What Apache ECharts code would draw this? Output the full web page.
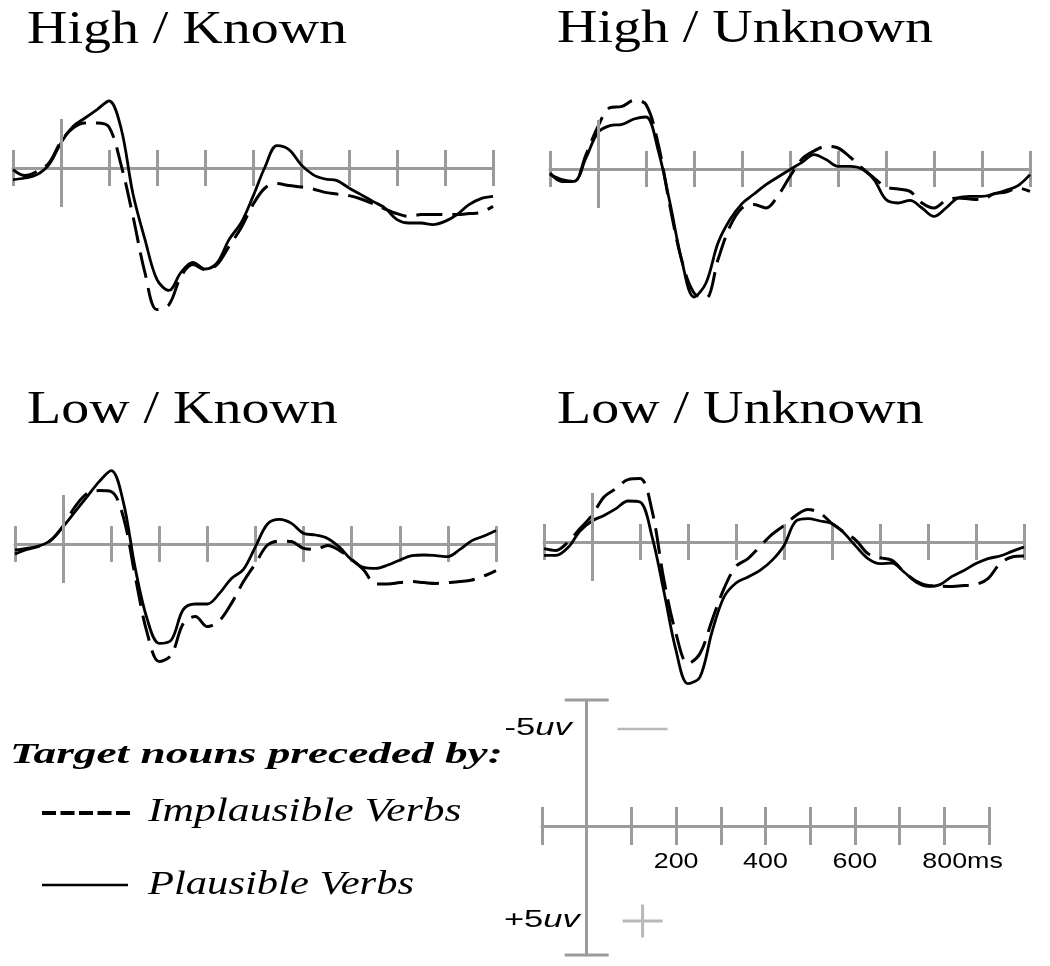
<!DOCTYPE html>
<html>
<head>
<meta charset="utf-8">
<script src="https://cdn.jsdelivr.net/npm/echarts@6/dist/echarts.min.js"></script>
<style>
  html, body { margin: 0; padding: 0; background: #fff; }
  #chart { width: 1050px; height: 966px; }
</style>
</head>
<body>
<div id="chart"></div>
<script>
// time points (ms), one reading every 25 ms
const TIMES = [-100, -75, -50, -25, 0, 25, 50, 75, 100, 125, 150, 175, 200, 225, 250, 275, 300,
  325, 350, 375, 400, 425, 450, 475, 500, 525, 550, 575, 600, 625, 650, 675, 700, 725, 750,
  775, 800, 825, 850, 875, 900]

// amplitudes in uV (negative plotted up)
const HK_IMPL = [0.08, 0.38, 0.17, -0.25, -1.33, -2.0, -2.25, -2.25, -2.05, -0.17, 2.42, 5.25, 7.08,
  6.83, 5.42, 4.83, 5.08, 4.83, 3.92, 3.0, 1.83, 1.0, 0.78, 0.88, 0.95, 1.05, 1.22, 1.3, 1.38,
  1.55, 1.78, 2.05, 2.28, 2.42, 2.33, 2.33, 2.33, 2.33, 2.28, 2.22, 1.92]
const HK_PLAUS = [0.58, 0.5, 0.33, -0.17, -1.25, -2.08, -2.5, -2.92, -3.35, -2.0, 1.3, 3.58, 5.58,
  6.12, 5.22, 4.72, 5.05, 4.75, 3.58, 2.75, 1.42, -0.05, -1.12, -0.92, -0.17, 0.33, 0.55, 0.63,
  1.0, 1.33, 1.67, 2.0, 2.58, 2.75, 2.75, 2.83, 2.67, 2.33, 1.83, 1.53, 1.42]

const HU_IMPL = [0.2, 0.62, 0.62, -0.72, -2.13, -3.07, -3.13, -3.43, -3.22, -1.3, 1.87, 4.62, 6.2,
  6.45, 4.53, 2.87, 1.95, 1.78, 1.95, 1.33, 0.37, -0.5, -0.9, -1.13, -1.05, -0.6, -0.05, 0.45,
  0.9, 1.0, 1.12, 1.7, 1.95, 1.57, 1.45, 1.5, 1.53, 1.23, 1.15, 0.95, 1.12]
const HU_PLAUS = [0.28, 0.53, 0.62, -0.55, -1.83, -2.17, -2.23, -2.5, -2.6, -0.97, 1.7, 4.62, 6.4,
  5.7, 3.7, 2.53, 1.73, 1.25, 0.78, 0.4, 0.03, -0.33, -0.72, -0.47, -0.13, -0.13, 0, 0.53, 1.53,
  1.7, 1.57, 1.95, 2.37, 1.95, 1.45, 1.37, 1.37, 1.25, 1.07, 0.83, 0.28]

const LK_IMPL = [0.5, 0.27, 0.1, -0.2, -0.9, -1.87, -2.53, -2.67, -2.62, -1.37, 1.63, 4.47, 5.88,
  5.55, 3.97, 3.63, 4.13, 3.83, 2.97, 1.88, 0.97, 0.05, -0.15, -0.12, 0.22, 0.27, 0.07, 0.33,
  0.77, 1.3, 2.0, 2.0, 1.93, 1.88, 1.93, 1.97, 1.93, 1.88, 1.8, 1.6, 1.33]
const LK_PLAUS = [0.3, 0.22, 0.1, -0.2, -0.87, -1.62, -2.37, -3.12, -3.67, -2.12, 1.22, 3.77, 4.97,
  4.8, 3.27, 3.0, 3.0, 2.47, 1.72, 1.27, 0.13, -1.0, -1.23, -1.03, -0.53, -0.45, -0.28, 0.17,
  0.8, 1.17, 1.22, 1.05, 0.8, 0.58, 0.55, 0.58, 0.63, 0.27, -0.17, -0.4, -0.67]

const LU_IMPL = [0.33, 0.42, 0, -0.67, -1.33, -2.25, -2.67, -3.12, -3.17, -1.58, 1.92, 4.58, 6.08,
  5.58, 3.92, 2.33, 1.22, 0.83, 0.22, -0.38, -0.83, -1.33, -1.62, -1.45, -0.92, -0.5, -0.08,
  0.58, 0.78, 0.92, 1.5, 1.95, 2.17, 2.2, 2.22, 2.18, 2.12, 1.83, 1.08, 0.75, 0.7]
const LU_PLAUS = [0.67, 0.67, 0.28, -0.55, -1.05, -1.33, -1.67, -2.05, -2.0, -0.28, 2.5, 5.42, 7.08,
  6.75, 4.5, 2.75, 2.05, 1.75, 1.42, 0.92, 0.17, -1.05, -1.17, -1.05, -0.92, -0.45, 0.22, 0.83,
  1.08, 1.05, 1.5, 2.0, 2.22, 2.13, 1.72, 1.42, 1.08, 0.83, 0.7, 0.47, 0.25]

const PANEL_TITLES = ['High / Known', 'High / Unknown', 'Low / Known', 'Low / Unknown']
const PANEL_DATA = [[HK_IMPL, HK_PLAUS], [HU_IMPL, HU_PLAUS], [LK_IMPL, LK_PLAUS], [LU_IMPL, LU_PLAUS]]
const SERIES_NAMES = ['Implausible Verbs', 'Plausible Verbs']

const SCALE_LABELS = [200, 400, 600, 800]
const SCALE_UV = [-5, 5]
const ONSET_TICK = [-2.45, 1.95]

// layout (pixels)
const PANELS = [
  { left: 13, axisY: 168, width: 480, titleX: 27, titleY: 31 },
  { left: 550, axisY: 169, width: 480, titleX: 557, titleY: 30 },
  { left: 15, axisY: 544, width: 481, titleX: 27, titleY: 411 },
  { left: 544, axisY: 542, width: 480, titleX: 557, titleY: 411 }
]
const PX_PER_UV = 20
const Y_MIN = -5
const Y_MAX = 8
const GRAY = '#9b9b9b'
const SERIF = '"Liberation Serif", "DejaVu Serif", serif'
const SANS = '"Liberation Sans", Arial, sans-serif'

function timeAxis(gridIndex, position, showLine, tickLen) {
  return {
    type: 'value',
    gridIndex,
    position,
    min: -100,
    max: 900,
    interval: 100,
    axisLine: { show: showLine, onZero: true, onZeroAxisIndex: gridIndex, lineStyle: { color: GRAY, width: 3 } },
    axisTick: { show: true, inside: false, length: tickLen, lineStyle: { color: GRAY, width: 3 } },
    axisLabel: { show: false },
    splitLine: { show: false }
  }
}

const grid = []
const xAxis = []
const yAxis = []
const series = []

PANELS.forEach((p, i) => {
  grid.push({
    left: p.left,
    width: p.width,
    top: p.axisY + Y_MIN * PX_PER_UV,
    height: (Y_MAX - Y_MIN) * PX_PER_UV,
    containLabel: false,
    outerBoundsMode: 'none'
  })
  xAxis.push(timeAxis(i, 'bottom', true, 18))
  xAxis.push(timeAxis(i, 'top', false, 18))
  yAxis.push({ type: 'value', gridIndex: i, min: Y_MIN, max: Y_MAX, inverse: true, show: false })

  const [impl, plaus] = PANEL_DATA[i]
  series.push({
    name: SERIES_NAMES[0],
    type: 'line',
    xAxisIndex: i * 2,
    yAxisIndex: i,
    data: TIMES.map((t, k) => [t, impl[k]]),
    showSymbol: false,
    smooth: 0.35,
    lineStyle: { color: '#000', width: 3, type: [26, 10] },
    silent: true
  })
  series.push({
    name: SERIES_NAMES[1],
    type: 'line',
    xAxisIndex: i * 2,
    yAxisIndex: i,
    data: TIMES.map((t, k) => [t, plaus[k]]),
    showSymbol: false,
    smooth: 0.35,
    lineStyle: { color: '#000', width: 2.8 },
    silent: true,
    markLine: {
      silent: true,
      symbol: 'none',
      label: { show: false },
      lineStyle: { color: GRAY, width: 3, type: 'solid' },
      data: [[{ coord: [0, ONSET_TICK[0]] }, { coord: [0, ONSET_TICK[1]] }]]
    }
  })
})

// calibration panel
const S = 4
grid.push({ left: 542, width: 447, top: 700, height: 255, containLabel: false, outerBoundsMode: 'none' })
xAxis.push(timeAxis(S, 'bottom', true, 19), timeAxis(S, 'top', false, 19))
yAxis.push({
  type: 'value',
  gridIndex: S,
  min: -6.3,
  max: 6.45,
  inverse: true,
  axisLine: {
    show: true,
    onZero: true,
    onZeroAxisIndex: S * 2,
    symbol: ['rect', 'rect'],
    symbolSize: [44, 3],
    lineStyle: { color: GRAY, width: 3 }
  },
  axisTick: { show: false },
  splitLine: { show: false },
  axisLabel: { show: false }
})
series.push({
  type: 'scatter',
  xAxisIndex: S * 2,
  yAxisIndex: S,
  silent: true,
  data: [{ value: [125, -4.85], symbol: 'rect', symbolSize: [50, 2.5] },
    { value: [125, 4.75], symbol: 'path://M0,15h40v3h-40zM18.5,0h3v33h-3z', symbolSize: [40, 33] }],
  itemStyle: { color: '#a8a8a8' }
})

function label(text, x, y, size, scaleX, extra) {
  return {
    type: 'text',
    x,
    y,
    scaleX,
    silent: true,
    style: Object.assign({
      text,
      fontFamily: SERIF,
      fontSize: size,
      fill: '#000',
      align: 'left',
      verticalAlign: 'middle'
    }, extra || {})
  }
}

const graphic = PANELS.map((p, i) => label(PANEL_TITLES[i], p.titleX, p.titleY, 47, 1.19))
graphic.push(label('Target nouns preceded by:', 10, 755, 30, 1.51, { fontStyle: 'italic', fontWeight: 'bold' }))
graphic.push({
  type: 'line',
  silent: true,
  shape: { x1: 42, y1: 813, x2: 130, y2: 813 },
  style: { stroke: '#000', lineWidth: 4, lineDash: [14, 4.5] }
})
graphic.push(label(SERIES_NAMES[0], 148, 812, 33, 1.32, { fontStyle: 'italic' }))
graphic.push({
  type: 'line',
  silent: true,
  shape: { x1: 42, y1: 885, x2: 128, y2: 885 },
  style: { stroke: '#000', lineWidth: 2.5 }
})
graphic.push(label(SERIES_NAMES[1], 148, 885, 33, 1.29, { fontStyle: 'italic' }))

const chart = echarts.init(document.getElementById('chart'))
chart.setOption({
  animation: false,
  backgroundColor: '#fff',
  grid,
  xAxis,
  yAxis,
  series,
  graphic
})

// calibration labels placed through the calibration grid's scales
SCALE_LABELS.forEach(v => {
  const [x, y] = chart.convertToPixel({ gridIndex: S }, [v, 0])
  const last = v === SCALE_LABELS[SCALE_LABELS.length - 1]
  graphic.push({
    type: 'text',
    x: last ? x - 22 : x,
    y: y + 36,
    scaleX: 1.22,
    silent: true,
    style: {
      text: last ? v + 'ms' : String(v),
      fontFamily: SANS,
      fontSize: 22,
      fill: '#000',
      align: last ? 'left' : 'center',
      verticalAlign: 'middle'
    }
  })
})
const uvRows = [-4.85, 4.75]
SCALE_UV.forEach((v, i) => {
  const [x, y] = chart.convertToPixel({ gridIndex: S }, [0, uvRows[i]])
  graphic.push({
    type: 'text',
    x: x - (v < 0 ? 15 : 7),
    y,
    scaleX: 1.5,
    silent: true,
    style: {
      text: '{n|' + (v < 0 ? '-' : '+') + Math.abs(v) + '}{u|uv}',
      align: 'right',
      verticalAlign: 'middle',
      rich: {
        n: { fontFamily: SANS, fontSize: 23, fill: '#000' },
        u: { fontFamily: SANS, fontSize: 23, fontStyle: 'italic', fill: '#000' }
      }
    }
  })
})
chart.setOption({ graphic })
</script>
</body>
</html>
